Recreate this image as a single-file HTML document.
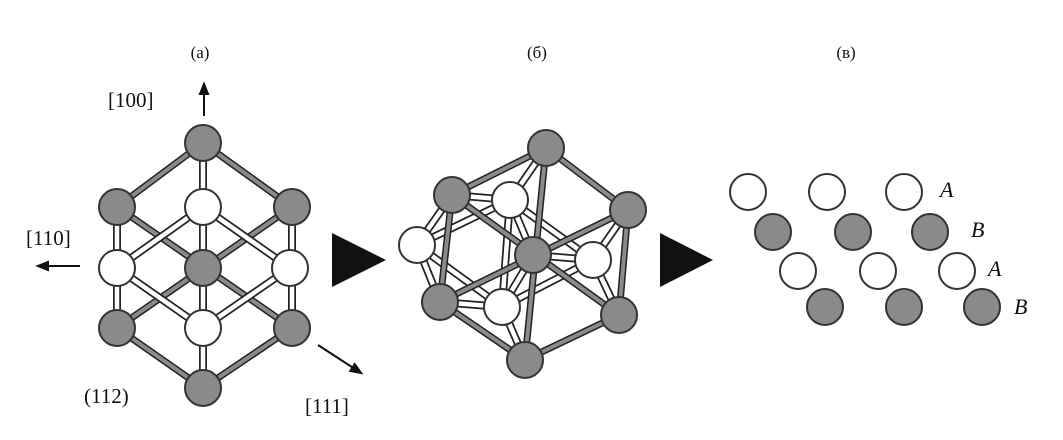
<!DOCTYPE html>
<html><head><meta charset="utf-8"><style>
html,body{margin:0;padding:0;background:#fff;}
svg{display:block;}
text{font-family:"Liberation Serif",serif;fill:#111;}
</style></head><body>
<svg width="1063" height="440" viewBox="0 0 1063 440" xmlns="http://www.w3.org/2000/svg">
<defs>
<marker id="ah" viewBox="0 0 10 10" refX="8" refY="5" markerWidth="7" markerHeight="7" orient="auto"><path d="M0,1 L10,5 L0,9 Z" fill="#111"/></marker>
</defs>
<text x="200" y="58" font-size="17" text-anchor="middle">(а)</text>
<text x="537" y="58" font-size="17" text-anchor="middle">(б)</text>
<text x="846" y="58" font-size="17" text-anchor="middle">(в)</text>

<!-- panel a bonds -->
<g stroke-linecap="butt">
<g stroke="#222" stroke-width="7">
<path d="M203,143L117,207M203,143L292,207M117,207L292,328M292,207L117,328M117,328L203,388M292,328L203,388"/>
</g>
<g stroke="#8a8a8a" stroke-width="4">
<path d="M203,143L117,207M203,143L292,207M117,207L292,328M292,207L117,328M117,328L203,388M292,328L203,388"/>
</g>
<g stroke="#222" stroke-width="8">
<path d="M203,143V388M117,207V328M292,207V328M203,207L117,268M203,207L290,268M117,268L203,328M290,268L203,328"/>
</g>
<g stroke="#fff" stroke-width="4.5">
<path d="M203,143V388M117,207V328M292,207V328M203,207L117,268M203,207L290,268M117,268L203,328M290,268L203,328"/>
</g>
</g>
<g stroke="#333" stroke-width="2">
<circle cx="203" cy="143" r="18" fill="#8a8a8a"/>
<circle cx="117" cy="207" r="18" fill="#8a8a8a"/>
<circle cx="292" cy="207" r="18" fill="#8a8a8a"/>
<circle cx="203" cy="207" r="18" fill="#fff"/>
<circle cx="117" cy="268" r="18" fill="#fff"/>
<circle cx="203" cy="268" r="18" fill="#8a8a8a"/>
<circle cx="290" cy="268" r="18" fill="#fff"/>
<circle cx="117" cy="328" r="18" fill="#8a8a8a"/>
<circle cx="203" cy="328" r="18" fill="#fff"/>
<circle cx="292" cy="328" r="18" fill="#8a8a8a"/>
<circle cx="203" cy="388" r="18" fill="#8a8a8a"/>
</g>
<g stroke="#111" stroke-width="2" marker-end="url(#ah)">
<line x1="204" y1="116" x2="204" y2="84"/>
<line x1="80" y1="266" x2="38" y2="266"/>
<line x1="318" y1="345" x2="361" y2="373"/>
</g>
<text x="108" y="107" font-size="21">[100]</text>
<text x="26" y="245" font-size="21">[110]</text>
<text x="305" y="413" font-size="21">[111]</text>
<text x="84" y="403" font-size="21">(112)</text>

<path d="M332,233L386,260L332,287Z" fill="#111"/>
<path d="M660,233L713,260L660,287Z" fill="#111"/>

<!-- panel b -->
<g>
<g stroke="#222" stroke-width="8">
<path d="M510,200L417,245M510,200L593,260M417,245L502,307M593,260L502,307M510,200L502,307M417,245L452,195M417,245L440,302M510,200L452,195M510,200L546,148M510,200L533,255M593,260L533,255M593,260L628,210M593,260L619,315M502,307L440,302M502,307L525,360M502,307L533,255"/>
</g>
<g stroke="#fff" stroke-width="4.5">
<path d="M510,200L417,245M510,200L593,260M417,245L502,307M593,260L502,307M510,200L502,307M417,245L452,195M417,245L440,302M510,200L452,195M510,200L546,148M510,200L533,255M593,260L533,255M593,260L628,210M593,260L619,315M502,307L440,302M502,307L525,360M502,307L533,255"/>
</g>
<g stroke="#222" stroke-width="7">
<path d="M546,148L452,195M546,148L628,210M546,148L525,360M452,195L440,302M628,210L619,315M440,302L525,360M619,315L525,360M452,195L619,315M628,210L440,302"/>
</g>
<g stroke="#8a8a8a" stroke-width="4">
<path d="M546,148L452,195M546,148L628,210M546,148L525,360M452,195L440,302M628,210L619,315M440,302L525,360M619,315L525,360M452,195L619,315M628,210L440,302"/>
</g>
<g stroke="#333" stroke-width="2">
<circle cx="546" cy="148" r="18" fill="#8a8a8a"/>
<circle cx="452" cy="195" r="18" fill="#8a8a8a"/>
<circle cx="628" cy="210" r="18" fill="#8a8a8a"/>
<circle cx="510" cy="200" r="18" fill="#fff"/>
<circle cx="417" cy="245" r="18" fill="#fff"/>
<circle cx="533" cy="255" r="18" fill="#8a8a8a"/>
<circle cx="593" cy="260" r="18" fill="#fff"/>
<circle cx="440" cy="302" r="18" fill="#8a8a8a"/>
<circle cx="502" cy="307" r="18" fill="#fff"/>
<circle cx="619" cy="315" r="18" fill="#8a8a8a"/>
<circle cx="525" cy="360" r="18" fill="#8a8a8a"/>
</g>
</g>

<!-- panel c -->
<g stroke="#333" stroke-width="2">
<circle cx="748" cy="192" r="18" fill="#fff"/>
<circle cx="827" cy="192" r="18" fill="#fff"/>
<circle cx="904" cy="192" r="18" fill="#fff"/>
<circle cx="773" cy="232" r="18" fill="#8a8a8a"/>
<circle cx="853" cy="232" r="18" fill="#8a8a8a"/>
<circle cx="930" cy="232" r="18" fill="#8a8a8a"/>
<circle cx="798" cy="271" r="18" fill="#fff"/>
<circle cx="878" cy="271" r="18" fill="#fff"/>
<circle cx="957" cy="271" r="18" fill="#fff"/>
<circle cx="825" cy="307" r="18" fill="#8a8a8a"/>
<circle cx="904" cy="307" r="18" fill="#8a8a8a"/>
<circle cx="982" cy="307" r="18" fill="#8a8a8a"/>
</g>
<g font-size="22" font-style="italic">
<text x="940" y="197">A</text>
<text x="971" y="237">B</text>
<text x="988" y="276">A</text>
<text x="1014" y="314">B</text>
</g>
</svg>
</body></html>
